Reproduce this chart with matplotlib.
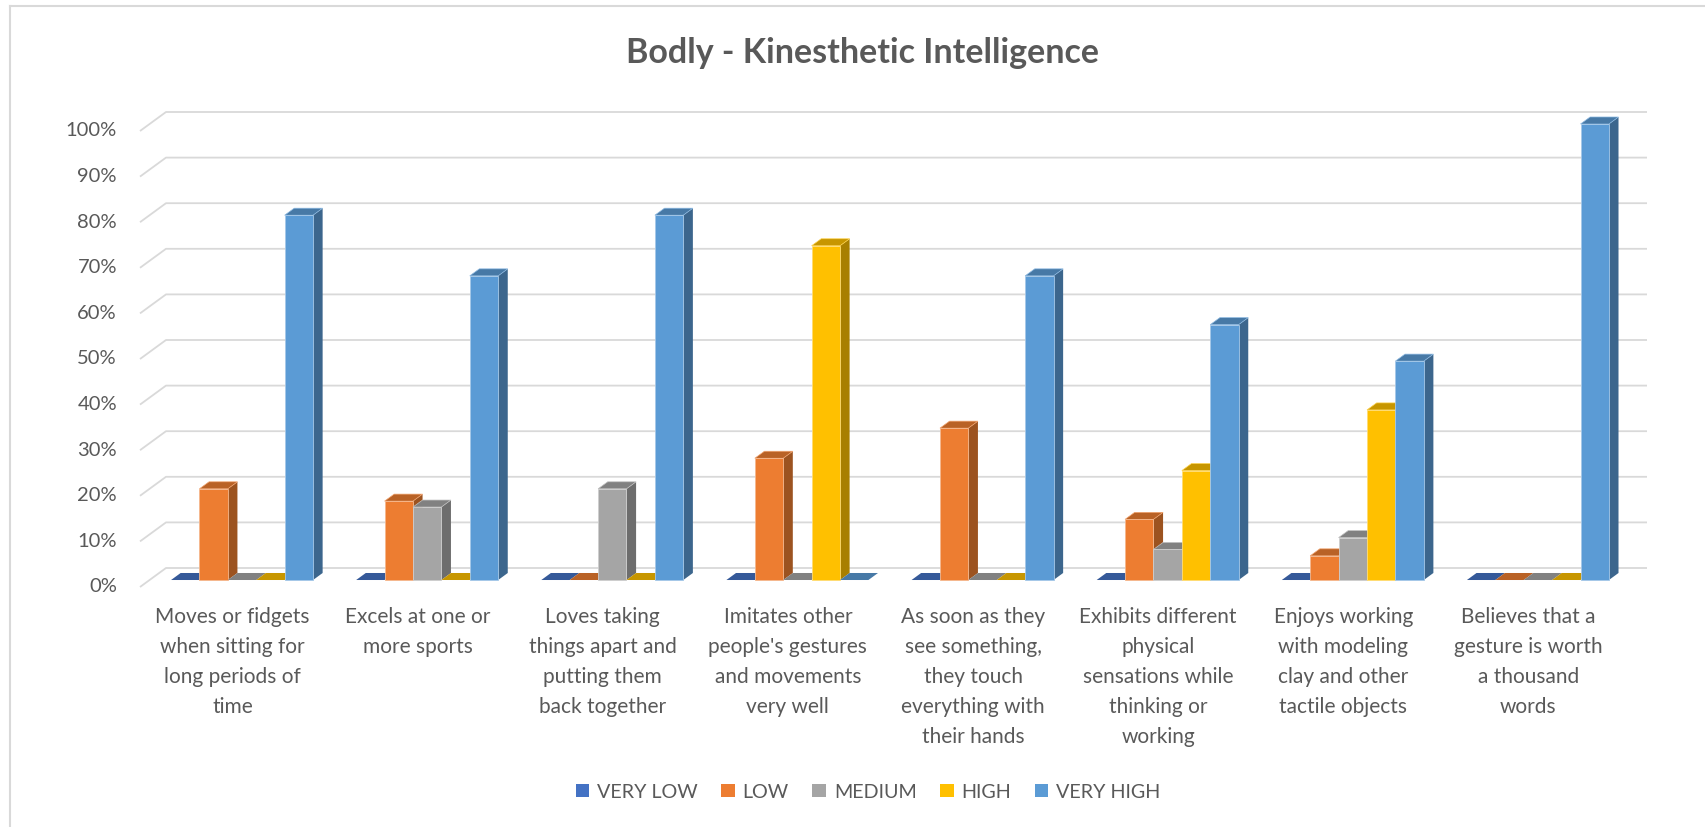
import numpy as np
import matplotlib
matplotlib.use("Agg")
import matplotlib.pyplot as plt
from matplotlib.patches import Patch
from matplotlib.lines import Line2D
from matplotlib.colors import to_rgb

plt.rcParams['font.family'] = ['Lato', 'DejaVu Sans']

categories = [
    "Moves or fidgets\nwhen sitting for\nlong periods of\ntime",
    "Excels at one or\nmore sports",
    "Loves taking\nthings apart and\nputting them\nback together",
    "Imitates other\npeople's gestures\nand movements\nvery well",
    "As soon as they\nsee something,\nthey touch\neverything with\ntheir hands",
    "Exhibits different\nphysical\nsensations while\nthinking or\nworking",
    "Enjoys working\nwith modeling\nclay and other\ntactile objects",
    "Believes that a\ngesture is worth\na thousand\nwords",
]
series = ["VERY LOW", "LOW", "MEDIUM", "HIGH", "VERY HIGH"]
very_low = [0, 0, 0, 0, 0, 0, 0, 0]
low = [20, 17.3, 0, 26.7, 33.3, 13.3, 5.3, 0]
medium = [0, 16, 20, 0, 0, 6.7, 9.3, 0]
high = [0, 0, 0, 73.3, 0, 24, 37.3, 0]
very_high = [80, 66.7, 80, 0, 66.7, 56, 48, 100]
yticks = [0, 10, 20, 30, 40, 50, 60, 70, 80, 90, 100]

colors = ["#4472C4", "#ED7D31", "#A5A5A5", "#FFC000", "#5B9BD5"]
text_color = "#595959"
grid_color = "#D9D9D9"

W, H = 1706, 827
fig = plt.figure(figsize=(W / 100, H / 100), dpi=100)

# back wall of the 3D plot, in pixels
wall_l, wall_r, wall_t, wall_b = 166, 1647, 112, 568
ax = fig.add_axes([wall_l / W, (H - wall_b) / H, (wall_r - wall_l) / W, (wall_b - wall_t) / H])
ax.set_xlim(-0.5, 7.5)
ax.set_ylim(0, 100)
ax.axis("off")

px_x = (wall_r - wall_l) / 8.0
px_y = (wall_b - wall_t) / 100.0
DX = 26 / px_x          # full depth offset, x
DY = 19 / px_y          # full depth offset, y
d_front, d_back = 0.632, 0.263
bw = 0.1534
g0 = -0.384


def P(x, y, d):
    return x - d * DX, y - d * DY


def shade(c, f):
    r, g, b = to_rgb(c)
    return (r * f, g * f, b * f)


def light(c, f=0.45):
    r, g, b = to_rgb(c)
    return (r + (1 - r) * f, g + (1 - g) * f, b + (1 - b) * f)


# gridlines on back wall + left side wall
for v in yticks:
    x0, y0 = P(-0.5, v, 1.0)
    ax.plot([x0, -0.5, 7.5], [y0, v, v], color=grid_color, lw=1.3, zorder=1,
            clip_on=False, solid_capstyle="butt")
    lx, ly = P(-0.5 - 23 / px_x, v, 1.0)
    ax.text(lx, ly, f"{v}%", ha="right", va="center", fontsize=14.5,
            color=text_color, clip_on=False)

data = [very_low, low, medium, high, very_high]
z = 2
for i in range(len(categories)):
    for j, vals in enumerate(data):
        v = vals[i]
        c = colors[j]
        xl = i + g0 + j * bw
        xr = xl + bw
        top = [P(xl, v, d_front), P(xr, v, d_front), P(xr, v, d_back), P(xl, v, d_back)]
        if v > 0:
            side = [P(xr, 0, d_front), P(xr, v, d_front), P(xr, v, d_back), P(xr, 0, d_back)]
            ax.fill(*zip(*side), color=shade(c, 0.66), lw=0, zorder=z, clip_on=False)
            ax.fill(*zip(*top), facecolor=shade(c, 0.78), edgecolor=light(c, 0.3),
                    lw=0.5, zorder=z, clip_on=False)
            fx, fy = P(xl, 0, d_front)
            ax.bar(fx, v, width=bw, bottom=fy, align="edge", color=c,
                   edgecolor=light(c, 0.45), linewidth=0.6, zorder=z + 0.5, clip_on=False)
        else:
            ax.fill(*zip(*top), color=shade(c, 0.78), lw=0, zorder=z, clip_on=False)
        z += 1

# category labels
for i, lab in enumerate(categories):
    cx, _ = P(i, 0, 1.0)
    ax.text(cx, -(607 - wall_b) / px_y, lab, ha="center", va="top",
            fontsize=15, color=text_color, linespacing=1.62, clip_on=False)

# title
fig.text(863 / W, 1 - 63 / H, "Bodly - Kinesthetic Intelligence", ha="center",
         va="baseline", fontsize=24.5, fontweight="bold", color=text_color)

# legend
handles = [Patch(facecolor=c, edgecolor="none") for c in colors]
fig.legend(handles, series, loc="center", bbox_to_anchor=(868 / W, 1 - 792 / H),
           ncol=5, frameon=False, fontsize=14.2, labelcolor=text_color,
           handlelength=0.68, handleheight=0.68, handletextpad=0.4,
           columnspacing=1.2)

# chart border
fig.add_artist(Line2D([10 / W, 10 / W], [0, 1 - 6 / H], color="#D9D9D9", lw=1.5))
fig.add_artist(Line2D([10 / W, 1], [1 - 6 / H, 1 - 6 / H], color="#D9D9D9", lw=1.5))

fig.savefig("out.png", dpi=100, facecolor="white")
